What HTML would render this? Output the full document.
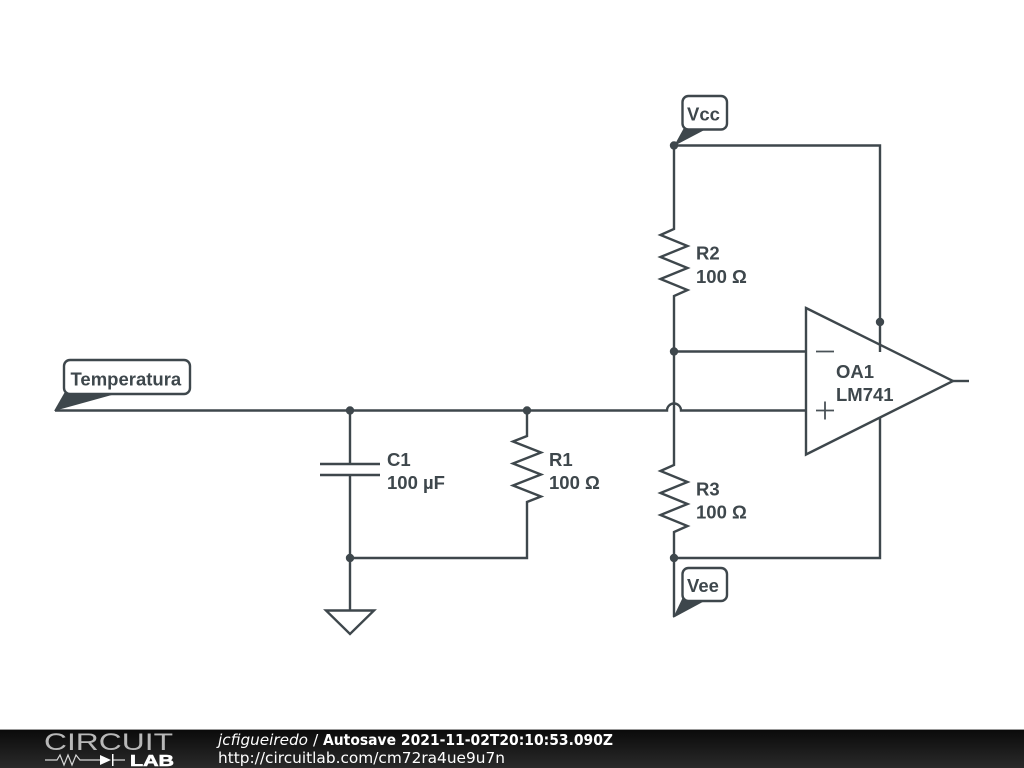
<!DOCTYPE html>
<html><head><meta charset="utf-8"><style>
html,body{margin:0;padding:0;background:#fff;width:1024px;height:768px;overflow:hidden}
svg{display:block}
.w{fill:none;stroke:#3e474c;stroke-width:2.4}
.s{fill:none;stroke:#4a5257;stroke-width:1.8}
.d{fill:#3e474c}
.t{font-family:"Liberation Sans",sans-serif;font-weight:bold;font-size:18.5px;fill:#3e474c}
.f{font-family:"DejaVu Sans",sans-serif;font-size:15.5px;fill:#fff}
</style></head><body>
<svg width="1024" height="768" viewBox="0 0 1024 768" xmlns="http://www.w3.org/2000/svg">
<defs><linearGradient id="g" x1="0" y1="0" x2="0" y2="1"><stop offset="0" stop-color="#0a0a0a"/><stop offset="1" stop-color="#2a2a2a"/></linearGradient></defs>
<rect width="1024" height="768" fill="#fff"/>
<!-- wires -->
<path class="w" d="M55 410.500H667A7 7 0 0 1 681 410.500H806"/>
<path class="w" d="M674 145.500H880V352M880 417V558H674"/>
<path class="w" d="M674 145V229L660.500 235 687.500 246 660.500 257 687.500 268 660.500 279 687.500 290 674 296V465L660.500 471 687.500 482 660.500 493 687.500 504 660.500 515 687.500 526 674 532V617"/>
<path class="w" d="M674 351.500H806"/>
<path class="w" d="M527 410V436L513 441.500 541 452.500 513 463.500 541 474.500 513 485.500 541 496.500 527 502V558H350"/>
<path class="w" d="M350 410V464M350 475V610M320 464H380M320 475H380"/>
<path class="w" d="M326 610.500H374L350 634Z"/>
<!-- op amp -->
<path class="w" d="M806 308L953 381L806 454.500Z"/>
<path class="w" d="M953 381H969"/>
<path class="s" d="M816 351.500H834M816 410.500H834M825 401.500V419.500"/>
<!-- junctions -->
<g class="d">
<circle cx="350" cy="410.500" r="4.200"/><circle cx="527" cy="410.500" r="4.200"/><circle cx="350" cy="558" r="4.200"/>
<circle cx="674" cy="145.500" r="4.200"/><circle cx="674" cy="351.500" r="4.200"/><circle cx="674" cy="558" r="4.200"/><circle cx="880" cy="322" r="4.200"/>
<!-- label tails -->
<path d="M54 411L66 390H130Z"/>
<path d="M674 146L685 126H712Z"/>
<path d="M673 618L683 597H712Z"/>
</g>
<!-- label boxes -->
<g fill="#fff" stroke="#3e474c" stroke-width="2.400">
<rect x="64" y="360" width="126" height="34" rx="6"/>
<rect x="682.500" y="96" width="44.500" height="33.500" rx="6"/>
<rect x="682.500" y="568" width="44.500" height="33" rx="6"/>
</g>
<g class="t">
<text x="70.500" y="385.500">Temperatura</text>
<text x="687" y="120.500">Vcc</text>
<text x="687" y="592">Vee</text>
<text x="387" y="466">C1</text>
<text x="387" y="489">100 µF</text>
<text x="549" y="466">R1</text>
<text x="549" y="489">100 Ω</text>
<text x="696" y="259.500">R2</text>
<text x="696" y="283">100 Ω</text>
<text x="696" y="495.500">R3</text>
<text x="696" y="518.500">100 Ω</text>
<text x="836" y="378">OA1</text>
<text x="836" y="401">LM741</text>
</g>
<!-- footer -->
<rect x="0" y="729" width="1024" height="39" fill="url(#g)"/>
<rect x="0" y="729" width="1024" height="1" fill="#999"/>
<text x="44" y="750" textLength="129" lengthAdjust="spacingAndGlyphs" style="font-family:'Liberation Sans',sans-serif;font-size:24px;fill:#b8b8b8;font-weight:normal">CIRCUIT</text>
<text x="130" y="766" textLength="44" lengthAdjust="spacingAndGlyphs" style="font-family:'Liberation Sans',sans-serif;font-size:15.500px;fill:#fff;stroke:#fff;stroke-width:.6;font-weight:bold">LAB</text>
<path d="M45 760H57L60 755 64 765 68 755 72 765 76 755 80 760H100M112 760H125" fill="none" stroke="#d8d8d8" stroke-width="1.200"/>
<path d="M100 755L111 760 100 765Z M112 754V766H113.500V754Z" fill="#fff"/>
<text class="f" x="218" y="745" textLength="90" lengthAdjust="spacingAndGlyphs" font-style="italic">jcfigueiredo</text>
<text class="f" x="313" y="745">/</text>
<text class="f" x="323" y="745" textLength="290" lengthAdjust="spacingAndGlyphs" font-weight="bold">Autosave 2021-11-02T20:10:53.090Z</text>
<text class="f" x="218" y="763" textLength="287" lengthAdjust="spacingAndGlyphs">http://circuitlab.com/cm72ra4ue9u7n</text>
</svg>
</body></html>
